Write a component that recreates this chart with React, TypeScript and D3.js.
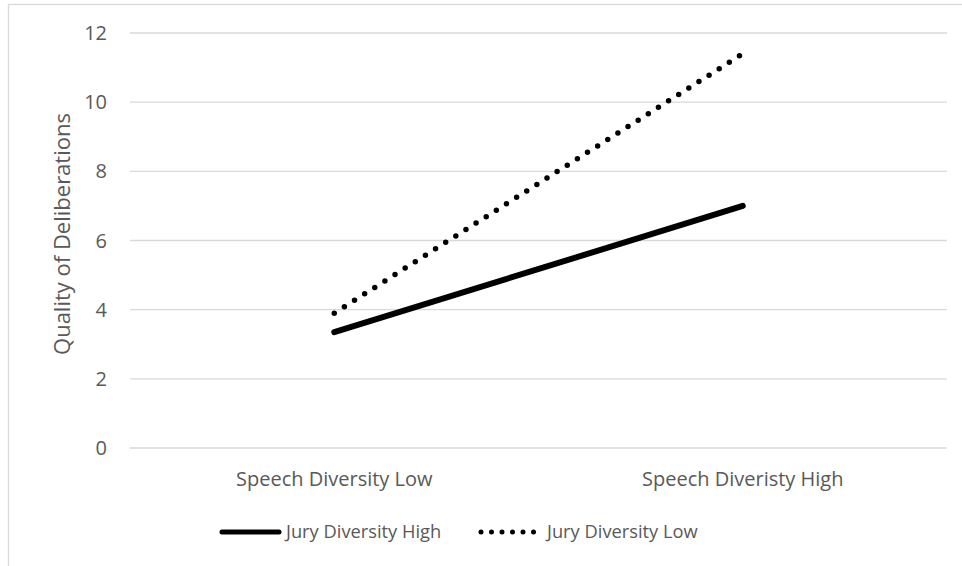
import React, { useEffect, useRef } from "react";
import * as d3 from "d3";

// Categories along the x axis
const categories = ["Speech Diversity Low", "Speech Diveristy High"];

// Quality of deliberations for each jury-diversity group
const juryHigh = [3.35, 7.0];
const juryLow = [3.9, 11.4];

const seriesNames = ["Jury Diversity High", "Jury Diversity Low"];

// y axis ticks
const yTicks = [0, 2, 4, 6, 8, 10, 12];

const W = 962;
const H = 566;
const FONT = "'Open Sans', 'Noto Sans', sans-serif";
const TEXT = "#595959";
const GRID = "#d9d9d9";

export default function App() {
  const ref = useRef<SVGSVGElement | null>(null);

  useEffect(() => {
    const svg = d3.select(ref.current);
    svg.selectAll("*").remove();

    const plot = { left: 130, right: 947, top: 33, bottom: 448 };

    const x = d3
      .scaleBand<string>()
      .domain(categories)
      .range([plot.left, plot.right])
      .padding(0);
    const y = d3.scaleLinear().domain([0, 12]).range([plot.bottom, plot.top]);
    const cx = (c: string) => (x(c) as number) + x.bandwidth() / 2;

    // chart area frame (runs off the right and bottom edges)
    svg
      .append("rect")
      .attr("x", 8.5)
      .attr("y", 4.5)
      .attr("width", W + 20)
      .attr("height", H + 20)
      .attr("fill", "#ffffff")
      .attr("stroke", GRID)
      .attr("stroke-width", 1.3);

    // horizontal gridlines
    svg
      .append("g")
      .selectAll("line")
      .data(yTicks)
      .join("line")
      .attr("x1", plot.left)
      .attr("x2", plot.right)
      .attr("y1", (d) => y(d))
      .attr("y2", (d) => y(d))
      .attr("stroke", GRID)
      .attr("stroke-width", 1.3);

    // y tick labels
    svg
      .append("g")
      .selectAll("text")
      .data(yTicks)
      .join("text")
      .attr("x", 107)
      .attr("y", (d) => y(d))
      .attr("dy", "0.35em")
      .attr("text-anchor", "end")
      .attr("font-family", FONT)
      .attr("font-size", 20)
      .attr("fill", TEXT)
      .text((d) => d);

    // x category labels
    svg
      .append("g")
      .selectAll("text")
      .data(categories)
      .join("text")
      .attr("x", (d) => cx(d))
      .attr("y", 479)
      .attr("dy", "0.35em")
      .attr("text-anchor", "middle")
      .attr("font-family", FONT)
      .attr("font-size", 20)
      .attr("fill", TEXT)
      .text((d) => d);

    // y axis title
    svg
      .append("text")
      .attr("transform", `translate(62,234) rotate(-90)`)
      .attr("dy", "0.35em")
      .attr("text-anchor", "middle")
      .attr("font-family", FONT)
      .attr("font-size", 22)
      .attr("fill", TEXT)
      .text("Quality of Deliberations");

    const line = d3
      .line<number>()
      .x((_, i) => cx(categories[i]))
      .y((d) => y(d));

    // solid series
    svg
      .append("path")
      .attr("d", line(juryHigh))
      .attr("fill", "none")
      .attr("stroke", "#000")
      .attr("stroke-width", 6)
      .attr("stroke-linecap", "round");

    // dotted series
    svg
      .append("path")
      .attr("d", line(juryLow))
      .attr("fill", "none")
      .attr("stroke", "#000")
      .attr("stroke-width", 5.5)
      .attr("stroke-linecap", "round")
      .attr("stroke-dasharray", "0 12");

    // legend
    const legY = 532;
    const leg = svg.append("g");
    leg
      .append("line")
      .attr("x1", 222)
      .attr("x2", 279)
      .attr("y1", legY)
      .attr("y2", legY)
      .attr("stroke", "#000")
      .attr("stroke-width", 5)
      .attr("stroke-linecap", "round");
    leg
      .append("text")
      .attr("x", 286)
      .attr("y", legY)
      .attr("dy", "0.35em")
      .attr("font-family", FONT)
      .attr("font-size", 18.3)
      .attr("fill", TEXT)
      .text(seriesNames[0]);
    leg
      .append("line")
      .attr("x1", 481)
      .attr("x2", 534)
      .attr("y1", legY)
      .attr("y2", legY)
      .attr("stroke", "#000")
      .attr("stroke-width", 5)
      .attr("stroke-linecap", "round")
      .attr("stroke-dasharray", "0 10.5");
    leg
      .append("text")
      .attr("x", 547)
      .attr("y", legY)
      .attr("dy", "0.35em")
      .attr("font-family", FONT)
      .attr("font-size", 18.3)
      .attr("fill", TEXT)
      .text(seriesNames[1]);
  }, []);

  return (
    <svg
      ref={ref}
      width={W}
      height={H}
      style={{ position: "absolute", left: 0, top: 0, display: "block", background: "#fff" }}
    />
  );
}
